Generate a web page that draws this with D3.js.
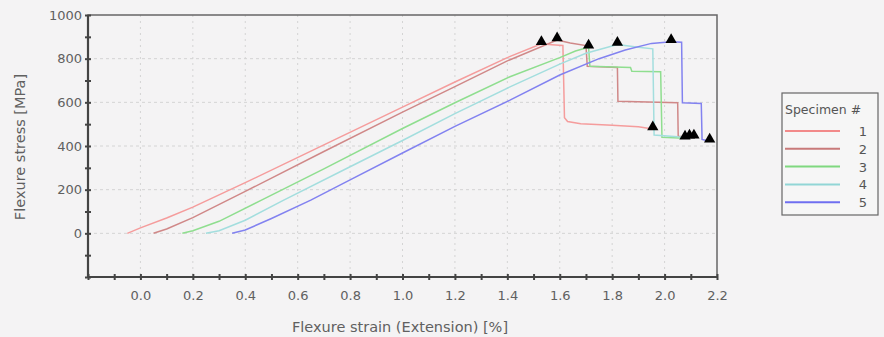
<!DOCTYPE html>
<html><head><meta charset="utf-8">
<script src="https://cdn.jsdelivr.net/npm/d3@7"></script>
<style>
html,body{margin:0;padding:0;background:#f4f3f4;}
svg{display:block;font-family:"DejaVu Sans",sans-serif;}
</style></head>
<body><svg id="c" width="884" height="337"></svg>
<script>
// ---- data ----
const seriesNames = ["1","2","3","4","5"];
const strain1 = [-0.05,0.0,0.1,0.2,0.4,0.7,1.0,1.2,1.4,1.53,1.57,1.612,1.618,1.63,1.68,1.8,1.9,1.955];
const stress1 = [0,25,70,120,232,405,578,693,805,868,864,860,530,512,502,495,488,478];
const strain2 = [0.05,0.1,0.2,0.4,0.7,1.0,1.2,1.4,1.59,1.64,1.70,1.705,1.82,1.822,2.05,2.052,2.095];
const stress2 = [0,20,72,192,375,555,672,790,885,872,860,765,760,605,598,445,440];
const strain3 = [0.16,0.2,0.3,0.46,0.7,1.0,1.2,1.41,1.6,1.66,1.71,1.715,1.87,1.875,1.985,1.99,2.078];
const stress3 = [0,12,55,151,295,480,598,717,805,835,852,765,760,742,740,440,436];
const strain4 = [0.25,0.3,0.4,0.545,0.8,1.0,1.2,1.41,1.6,1.7,1.82,1.9,1.955,1.96,2.05,2.112];
const stress4 = [0,12,60,151,305,425,548,671,775,825,865,852,845,450,442,440];
const strain5 = [0.35,0.4,0.5,0.65,0.8,1.0,1.2,1.41,1.6,1.75,1.85,1.95,2.025,2.065,2.068,2.14,2.143,2.172];
const stress5 = [0,15,68,152,245,368,490,610,725,800,840,870,878,875,598,595,430,422];
const lineColors = ["#f59c9c","#d08888","#8fde8f","#a3dede","#8282f0"];
const legendColors = ["#f28a8a","#c87a7a","#7fd87f","#92d6d6","#6f6ff0"];
const xTickLabels = ["0.0","0.2","0.4","0.6","0.8","1.0","1.2","1.4","1.6","1.8","2.0","2.2"];
const yTickLabels = ["0","200","400","600","800","1000"];

const strains = [strain1,strain2,strain3,strain4,strain5];
const stresses = [stress1,stress2,stress3,stress4,stress5];

// ---- layout ----
const svg = d3.select("#c");
const L=88, R=717, T=15, B=277;
const x = d3.scaleLinear().domain([-0.2,2.2]).range([L,R]);
const y = d3.scaleLinear().domain([-200,1000]).range([B,T]);

svg.append("rect").attr("width",884).attr("height",337).attr("fill","#f4f3f4");

// grid
const g = svg.append("g");
xTickLabels.map(Number).filter(v=>v<2.1).forEach(v=>{
  g.append("line").attr("x1",x(v)).attr("x2",x(v)).attr("y1",T).attr("y2",B)
   .attr("stroke","#d4d4d4").attr("stroke-width",1).attr("stroke-dasharray","2,4");
});
yTickLabels.map(Number).filter(v=>v<1000).forEach(v=>{
  g.append("line").attr("x1",L).attr("x2",R).attr("y1",y(v)).attr("y2",y(v))
   .attr("stroke","#d4d4d4").attr("stroke-width",1).attr("stroke-dasharray","3,3");
});

// curves
const line = d3.line().x(d=>x(d[0])).y(d=>y(d[1]));
strains.forEach((s,i)=>{
  const pts = s.map((v,j)=>[v,stresses[i][j]]);
  svg.append("path").datum(pts).attr("d",line).attr("fill","none")
    .attr("stroke",lineColors[i]).attr("stroke-width",1.5);
});
// markers: peak and break
const tri = d3.symbol().type(d3.symbolTriangle).size(55);
strains.forEach((s,i)=>{
  const st = stresses[i];
  const pk = d3.maxIndex(st), last = st.length-1;
  [pk,last].forEach(j=>{
    svg.append("path").attr("d",tri)
      .attr("transform",`translate(${x(s[j])},${y(st[j])-2})`).attr("fill","#000");
  });
});

// frame
svg.append("rect").attr("x",L).attr("y",T).attr("width",R-L).attr("height",B-T)
  .attr("fill","none").attr("stroke","#666").attr("stroke-width",1.5);
svg.append("line").attr("x1",L).attr("x2",L).attr("y1",T).attr("y2",B).attr("stroke","#444").attr("stroke-width",2.2);
svg.append("line").attr("x1",L).attr("x2",R).attr("y1",B).attr("y2",B).attr("stroke","#444").attr("stroke-width",2.2);

// axes ticks
const xAxis = d3.axisBottom(x).tickValues(d3.range(-2,23).map(k=>k/10)).tickSize(0).tickFormat("");
const xa = svg.append("g").attr("transform",`translate(0,${B})`).call(xAxis);
xa.select(".domain").remove();
xa.selectAll(".tick").append("line").attr("y1",-3).attr("y2",3).attr("stroke","#444").attr("stroke-width",2);
const xl = d3.axisBottom(x).tickValues(xTickLabels.map(Number)).tickSize(0).tickPadding(14)
  .tickFormat((d,i)=>xTickLabels[i]);
const xla = svg.append("g").attr("transform",`translate(0,${B})`).call(xl);
xla.select(".domain").remove();
xla.selectAll("text").attr("font-size",13).attr("fill","#606060").attr("font-family","DejaVu Sans");

const yAxis = d3.axisLeft(y).tickValues(d3.range(-2,11).map(k=>k*100)).tickSize(0).tickFormat("");
const ya = svg.append("g").attr("transform",`translate(${L},0)`).call(yAxis);
ya.select(".domain").remove();
ya.selectAll(".tick").append("line").attr("x1",-3).attr("x2",3).attr("stroke","#444").attr("stroke-width",2);
const yl = d3.axisLeft(y).tickValues(yTickLabels.map(Number)).tickSize(0).tickPadding(6)
  .tickFormat((d,i)=>yTickLabels[i]);
const yla = svg.append("g").attr("transform",`translate(${L},0)`).call(yl);
yla.select(".domain").remove();
yla.selectAll("text").attr("font-size",13).attr("fill","#606060").attr("font-family","DejaVu Sans");

// titles
svg.append("text").attr("x",400).attr("y",332).attr("text-anchor","middle")
  .attr("font-size",14.5).attr("fill","#606060").text("Flexure strain (Extension) [%]");
svg.append("text").attr("transform","translate(25,147) rotate(-90)").attr("text-anchor","middle")
  .attr("font-size",14.5).attr("fill","#606060").text("Flexure stress [MPa]");

// legend
const lg = svg.append("g");
lg.append("rect").attr("x",782).attr("y",93).attr("width",96).attr("height",122)
  .attr("fill","#f6f6f6").attr("stroke","#666").attr("stroke-width",1.2);
lg.append("text").attr("x",785).attr("y",114).attr("font-size",12.5).attr("fill","#555").text("Specimen #");
seriesNames.forEach((n,i)=>{
  const yy = 131 + i*17.8;
  lg.append("line").attr("x1",785).attr("x2",840).attr("y1",yy).attr("y2",yy)
    .attr("stroke",legendColors[i]).attr("stroke-width",2);
  lg.append("text").attr("x",863).attr("y",yy+5).attr("text-anchor","middle")
    .attr("font-size",13).attr("fill","#555").text(n);
});
</script></body></html>
